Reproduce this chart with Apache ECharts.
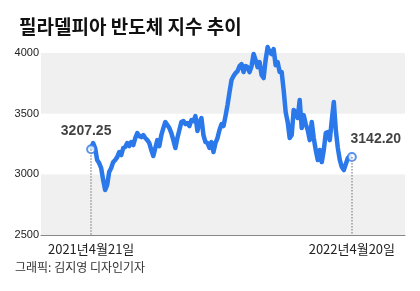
<!DOCTYPE html>
<html>
<head>
<meta charset="utf-8">
<script src="https://cdn.jsdelivr.net/npm/echarts@6/dist/echarts.min.js"></script>
<style>html,body{margin:0;padding:0;background:#fff}#c{width:420px;height:291px}</style>
</head>
<body>
<div id="c"></div>
<script>
const title = '필라델피아 반도체 지수 추이';
const credit = '그래픽: 김지영 디자인기자';
const yTicks = [2500, 3000, 3500, 4000];
const dateLabels = ['2021년4월21일', '2022년4월20일'];
const endIdx = [0, 130];
const endLabels = ['3207.25', '3142.20'];
const values = [
  3207.25, 3258, 3217, 3118, 3093, 3052, 2953, 2871, 2912, 3019,
  3052, 3101, 3118, 3142, 3184, 3159, 3217, 3225, 3258, 3233,
  3266, 3241, 3299, 3340, 3315, 3307, 3324, 3299, 3282, 3258,
  3200, 3151, 3217, 3282, 3233, 3324, 3381, 3431, 3406, 3381,
  3340, 3282, 3217, 3299, 3365, 3431, 3439, 3414, 3423, 3398,
  3447, 3439, 3480, 3357, 3431, 3464, 3324, 3266, 3258, 3217,
  3266, 3184, 3258, 3299, 3365, 3414, 3398, 3480, 3571, 3678,
  3777, 3810, 3834, 3851, 3892, 3909, 3843, 3892, 3884, 3843,
  3892, 3991, 3942, 3884, 3925, 3818, 3793, 3942, 4049, 4007,
  3991, 4032, 3900, 3925, 3843, 3843, 3694, 3513, 3431, 3299,
  3324, 3530, 3513, 3464, 3612, 3381, 3488, 3414, 3365, 3282,
  3431, 3299, 3200, 3118, 3200, 3101, 3200, 3340, 3348, 3282,
  3447, 3596, 3365, 3217, 3118, 3060, 3035, 3085, 3134, 3142,
  3142.2
];

const blue = '#2a78ea';
const numFont = '"Liberation Sans", Arial, sans-serif';
const krFont = '"Noto Sans CJK KR", "Noto Sans", sans-serif';

const lineData = values.map((v, i) => [i, v]);
const endData = endIdx.map((i, k) => ({
  value: [i, values[i]],
  label: {
    show: true,
    formatter: endLabels[k],
    position: 'inside',
    offset: k === 0 ? [-5, -18] : [24, -18]
  }
}));
const guideData = endIdx.map(i => [{coord: [i, values[i]]}, {coord: [i, yTicks[0]]}]);

const chart = echarts.init(document.getElementById('c'), null, {renderer: 'canvas'});
chart.setOption({
  animation: false,
  backgroundColor: '#fff',
  title: {
    text: title, left: 14, top: 12,
    textStyle: {fontFamily: krFont, fontSize: 19, fontWeight: 'bold', color: '#111'}
  },
  graphic: [{
    type: 'text', left: 15, top: 261,
    style: {text: credit, font: '12px ' + krFont, fill: '#333'}
  }],
  grid: {left: 41, right: 15, top: 53, bottom: 56},
  xAxis: {
    type: 'value', min: -25, max: 156.5,
    splitLine: {show: false},
    axisLine: {show: true, lineStyle: {color: '#888', width: 1}},
    axisTick: {show: false},
    axisLabel: {
      customValues: endIdx,
      margin: 8,
      fontFamily: krFont, fontSize: 13, color: '#222',
      formatter: v => dateLabels[endIdx.indexOf(v)] || ''
    }
  },
  yAxis: {
    type: 'value', min: yTicks[0], max: yTicks[yTicks.length - 1], interval: 500,
    axisLine: {show: false}, axisTick: {show: false},
    splitLine: {show: false},
    splitArea: {show: true, areaStyle: {color: ['#f0f0f0', '#ffffff']}},
    axisLabel: {margin: 2, fontFamily: numFont, fontSize: 11, color: '#222', formatter: v => String(v)}
  },
  series: [
    {
      type: 'line', data: [], z: 1, silent: true,
      markLine: {
        symbol: 'none', silent: true, label: {show: false},
        lineStyle: {type: 'dotted', color: '#999', width: 1.5},
        data: guideData
      }
    },
    {
      type: 'line', data: lineData, showSymbol: false, clip: false, z: 2,
      lineStyle: {color: blue, width: 4.5, join: 'round'}
    },
    {
      type: 'scatter', data: endData, z: 3, symbol: 'circle', symbolSize: 8,
      itemStyle: {color: '#fff', borderColor: blue, borderWidth: 2},
      label: {fontFamily: numFont, fontSize: 14, fontWeight: 'bold', color: '#111'}
    }
  ]
});
</script>
</body>
</html>
